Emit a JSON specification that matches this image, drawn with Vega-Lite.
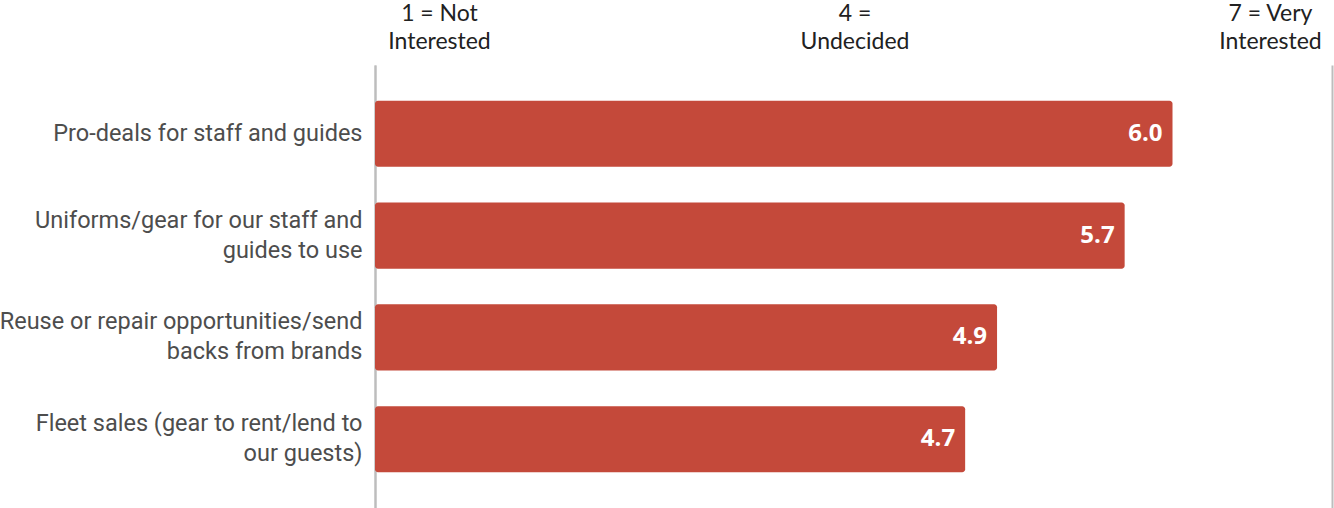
{
  "$schema": "https://vega.github.io/schema/vega-lite/v6.json",
  "width": 957,
  "height": 443,
  "autosize": {"type": "none"},
  "padding": {"left": 375, "top": 65, "right": 2, "bottom": 0},
  "background": "white",
  "config": {"view": {"stroke": null}},
  "data": {
    "values": [
      {"item": "Pro-deals for staff and guides", "score": 6.0},
      {"item": "Uniforms/gear for our staff and\nguides to use", "score": 5.7},
      {"item": "Reuse or repair opportunities/send\nbacks from brands", "score": 4.9},
      {"item": "Fleet sales (gear to rent/lend to\nour guests)", "score": 4.7}
    ]
  },
  "encoding": {
    "y": {
      "field": "item", "type": "nominal", "sort": null,
      "scale": {"paddingInner": 0.35, "paddingOuter": 0.35},
      "axis": {
        "title": null, "ticks": false, "domain": true, "domainColor": "#bdbdbd", "domainWidth": 2,
        "labelExpr": "split(datum.label, '\\n')",
        "labelOffset": {"expr": "indexof(datum.label, '\\n') >= 0 ? -15 : 0"},
        "labelFont": "Roboto", "labelFontSize": 23.5, "labelColor": "#4d4d4d",
        "labelPadding": 13, "labelLineHeight": 30, "labelLimit": 400
      }
    }
  },
  "layer": [
    {
      "mark": {"type": "bar", "color": "#c4493a", "cornerRadiusEnd": 3},
      "encoding": {
        "x": {
          "field": "score", "type": "quantitative",
          "scale": {"domain": [1, 7], "nice": false, "zero": false},
          "axis": {
            "orient": "top", "title": null, "values": [1, 4, 7], "grid": false,
            "domain": false, "ticks": false, "labelFlush": false, "labelAlign": "center",
            "labelOffset": {"expr": "datum.value == 1 ? 64 : datum.value == 7 ? -62 : 1"},
            "labelExpr": "datum.value == 1 ? ['1 = Not', 'Interested'] : datum.value == 4 ? ['4 =', 'Undecided'] : ['7 = Very', 'Interested']",
            "labelFont": "Lato", "labelFontSize": 23, "labelColor": "#212121",
            "labelPadding": 40, "labelLineHeight": 28
          }
        },
        "x2": {"datum": 1}
      }
    },
    {
      "mark": {"type": "text", "align": "right", "dx": -10, "color": "white", "font": "Open Sans", "fontWeight": "bold", "fontSize": 24},
      "encoding": {
        "x": {
          "field": "score", "type": "quantitative",
          "scale": {"domain": [1, 7], "nice": false, "zero": false},
          "axis": {
            "orient": "bottom", "title": null, "values": [1, 7], "grid": true, "gridColor": "#bdbdbd", "gridWidth": 2,
            "labels": false, "domain": false, "ticks": false
          }
        },
        "text": {"field": "score", "type": "quantitative", "format": ".1f"}
      }
    }
  ],
  "resolve": {"axis": {"x": "independent"}}
}
